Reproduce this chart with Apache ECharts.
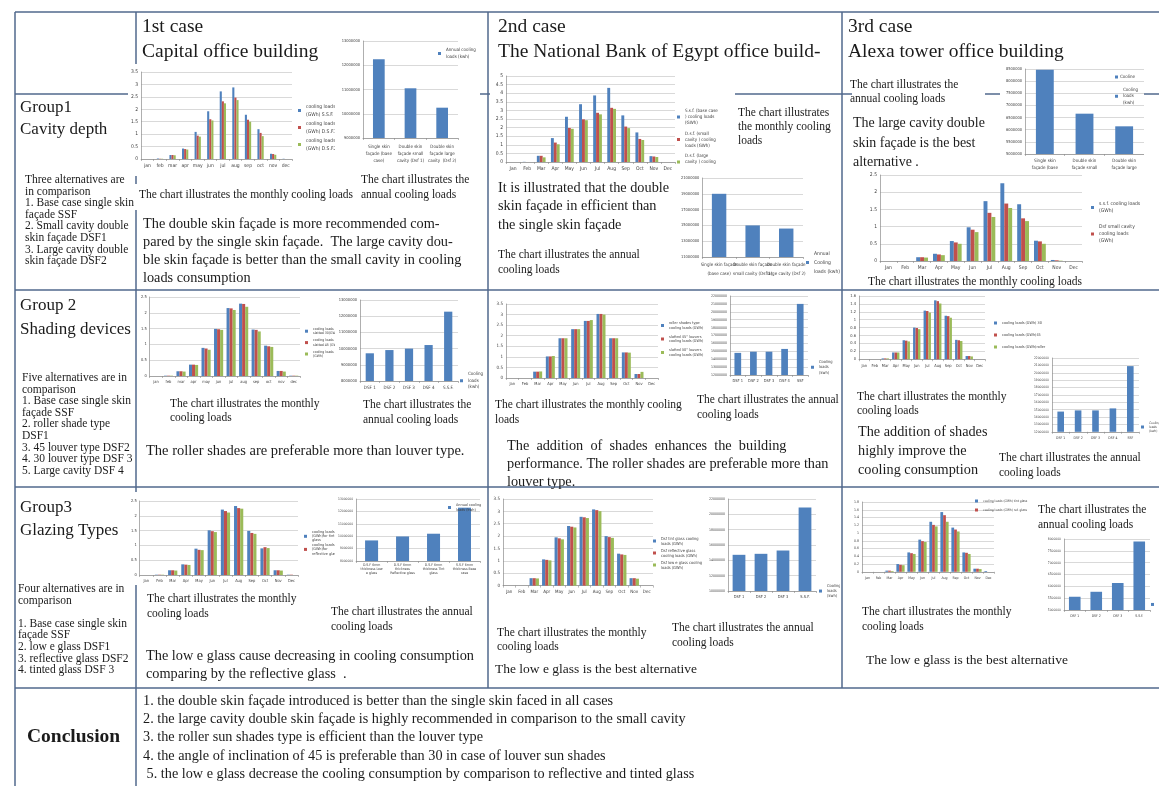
<!DOCTYPE html>
<html>
<head>
<meta charset="utf-8">
<script src="https://cdn.jsdelivr.net/npm/echarts@6/dist/echarts.min.js"></script>
<style>
  html, body { margin: 0; padding: 0; background: #fff; }
  #page { position: relative; width: 1159px; height: 786px; overflow: hidden; background: #fff; }
  #frame { position: absolute; left: 0; top: 0; width: 1159px; height: 786px; }
  .plot { position: absolute; background: #fff; overflow: hidden; }
</style>
</head>
<body>
<div id="page"><div id="frame"></div></div>
<script>
// ---------- categories ----------
const monthsLower = ['jan', 'feb', 'mar', 'apr', 'may', 'jun', 'jul', 'aug', 'sep', 'oct', 'nov', 'dec'];
const monthsTitle = ['Jan', 'Feb', 'Mar', 'Apr', 'May', 'Jun', 'Jul', 'Aug', 'Sep', 'Oct', 'Nov', 'Dec'];
const cavityCatsStacked = ['Single skin\nfaçade (base\ncase)', 'Double skin\nfaçade small\ncavity (Dsf 1)', 'Double skin\nfaçade large\ncavity  (Dsf 2)'];
const cavityCatsWide = ['Single skin façade\n(base case)', 'Double skin façade\nsmall cavity (Dsf 1)', 'Double skin façade\nlarge cavity (Dsf 2)'];
const shadeCatsCapital = ['DSF 1', 'DSF 2', 'DSF 3', 'DSF 4', 'S.S.F.'];
const shadeCatsOther = ['DSF 1', 'DSF 2', 'DSF 3', 'DSF 4', 'SSF'];
const glassCatsCapital = ['D.S.F 6mm\nthickness Low\ne glass', 'D.S.F 6mm\nthickness\nReflective glass', 'D.S.F 6mm\nthickness Tint\nglass', 'S.S.F 6mm\nthickness Base\ncase'];
const glassCatsOther = ['DSF 1', 'DSF 2', 'DSF 3', 'S.S.F.'];

// ---------- Group 1: cavity depth (monthly GWh, annual kWh) ----------
const capSSF  = [0, 0.02, 0.16, 0.42, 1.09, 1.92, 2.72, 2.88, 1.78, 1.20, 0.21, 0.01];
const capDSF1 = [0, 0.01, 0.16, 0.40, 0.94, 1.60, 2.32, 2.47, 1.58, 1.05, 0.20, 0];
const capDSF2 = [0, 0.01, 0.15, 0.38, 0.90, 1.55, 2.24, 2.37, 1.50, 0.92, 0.17, 0];
const capCavityAnnual = [12250000, 11050000, 10250000];

const nbeSSF  = [0, 0.01, 0.36, 1.39, 2.63, 3.36, 3.87, 4.31, 2.71, 1.72, 0.34, 0];
const nbeDSF1 = [0, 0, 0.36, 1.13, 1.98, 2.48, 2.86, 3.15, 2.06, 1.34, 0.32, 0];
const nbeDSF2 = [0, 0, 0.27, 1.03, 1.93, 2.43, 2.77, 3.09, 1.97, 1.28, 0.29, 0];
const nbeCavityAnnual = [19000000, 15000000, 14600000];

const alxSSF  = [0, 0, 0.11, 0.21, 0.58, 0.98, 1.74, 2.26, 1.65, 0.59, 0.03, 0];
const alxDSF1 = [0, 0, 0.11, 0.19, 0.54, 0.91, 1.40, 1.67, 1.24, 0.57, 0.02, 0];
const alxDSF2 = [0, 0, 0.10, 0.17, 0.50, 0.84, 1.28, 1.54, 1.16, 0.50, 0.01, 0];
const alxCavityAnnual = [8470000, 6660000, 6140000];

// ---------- Group 2: shading devices ----------
const capSlat30 = [0, 0.01, 0.15, 0.36, 0.89, 1.49, 2.15, 2.29, 1.47, 0.96, 0.16, 0.01];
const capSlat45 = [0, 0.01, 0.15, 0.36, 0.87, 1.48, 2.14, 2.28, 1.46, 0.94, 0.16, 0.01];
const capRoll   = [0, 0.01, 0.14, 0.35, 0.83, 1.46, 2.09, 2.19, 1.41, 0.92, 0.14, 0.01];
const capShadeAnnual = [9710000, 9910000, 10000000, 10220000, 12280000];

const nbeRoller = [0, 0, 0.30, 1.02, 1.88, 2.31, 2.70, 3.03, 1.88, 1.21, 0.19, 0];
const nbeSlat45 = [0, 0, 0.30, 1.02, 1.88, 2.31, 2.70, 3.03, 1.88, 1.21, 0.19, 0];
const nbeSlat30 = [0, 0, 0.31, 1.04, 1.88, 2.31, 2.74, 3.00, 1.88, 1.20, 0.29, 0];
const nbeShadeAnnual = [14800000, 14950000, 14950000, 15300000, 21000000];

const alxShade30     = [0, 0, 0.02, 0.17, 0.48, 0.80, 1.23, 1.49, 1.10, 0.49, 0.08, 0];
const alxShade45     = [0, 0, 0.02, 0.17, 0.47, 0.79, 1.22, 1.47, 1.09, 0.48, 0.08, 0];
const alxShadeRoller = [0, 0, 0.02, 0.17, 0.45, 0.76, 1.18, 1.41, 1.05, 0.46, 0.07, 0];
const alxShadeAnnual = [14740000, 14900000, 14900000, 15170000, 20900000];

// ---------- Group 3: glazing types ----------
const capTint = [0, 0.01, 0.16, 0.36, 0.89, 1.51, 2.21, 2.33, 1.49, 0.90, 0.16, 0.01];
const capRefl = [0, 0.01, 0.16, 0.35, 0.85, 1.48, 2.16, 2.26, 1.42, 0.94, 0.16, 0.01];
const capLowE = [0, 0.01, 0.15, 0.34, 0.84, 1.45, 2.11, 2.24, 1.39, 0.91, 0.15, 0];
const capGlassAnnual = [9660000, 9980000, 10200000, 12300000];

const nbeTint = [0, 0, 0.30, 1.06, 1.95, 2.41, 2.78, 3.08, 2.00, 1.29, 0.30, 0];
const nbeRefl = [0, 0, 0.30, 1.04, 1.91, 2.38, 2.76, 3.05, 1.96, 1.26, 0.30, 0];
const nbeLowE = [0, 0, 0.29, 1.02, 1.87, 2.35, 2.73, 3.01, 1.93, 1.24, 0.28, 0];
const nbeGlassAnnual = [14720000, 14850000, 15280000, 20900000];

const alxTint = [0, 0, 0.03, 0.20, 0.50, 0.83, 1.29, 1.54, 1.14, 0.50, 0.08, 0.02];
const alxRefl = [0, 0, 0.03, 0.18, 0.48, 0.79, 1.21, 1.46, 1.09, 0.49, 0.08, 0];
const alxLowE = [0, 0, 0.02, 0.17, 0.46, 0.77, 1.17, 1.29, 1.04, 0.46, 0.07, 0];
const alxGlassAnnual = [5560000, 5770000, 6140000, 7890000];

const conclusionLines = [
  '1. the double skin façade introduced is better than the single skin faced in all cases',
  '2. the large cavity double skin façade is highly recommended in comparison to the small cavity',
  '3. the roller sun shades type is efficient than the louver type',
  '4. the angle of inclination of 45 is preferable than 30 in case of louver sun shades',
  ' 5. the low e glass decrease the cooling consumption by comparison to reflective and tinted glass'
];

// ---------- drawing helpers ----------
const BLUE = '#4F81BD', RED = '#C0504D', GREEN = '#9BBB59';
const AXIS_FONT = '"Liberation Sans Narrow","DejaVu Sans Condensed","Liberation Sans",sans-serif';
const SERIF = '"Liberation Serif","Times New Roman",serif';
const INK = '#1b1b1b';
const RULE = '#50698c';

function mount(box) {
  const d = document.createElement('div');
  d.className = 'plot';
  d.style.left = box[0] + 'px';
  d.style.top = box[1] + 'px';
  d.style.width = box[2] + 'px';
  d.style.height = box[3] + 'px';
  document.getElementById('page').appendChild(d);
  return echarts.init(d, null, { renderer: 'canvas' });
}

function barChart(spec) {
  const [bx, by] = spec.box;
  const [pl, pt, pr, pb] = spec.plot;
  const lg = spec.legend;
  const chart = mount(spec.box);
  const extra = (spec.extra || []).map(e => Object.assign({}, e, { x: (e.x || 0) - bx, y: (e.y || 0) - by }));
  chart.setOption({
    animation: false,
    backgroundColor: '#fff',
    textStyle: { fontFamily: AXIS_FONT },
    grid: { left: pl - bx, top: pt - by, width: pr - pl, height: pb - pt },
    legend: {
      orient: 'vertical', left: lg.x - bx, top: lg.y - by, padding: 0,
      itemWidth: lg.mk || 3, itemHeight: lg.mk || 3, itemGap: lg.gap || 0, icon: 'rect',
      selectedMode: false,
      data: lg.names || spec.series.map(s => s.name),
      textStyle: { fontSize: lg.fs, lineHeight: lg.lh, color: '#404040', fontFamily: AXIS_FONT }
    },
    xAxis: {
      type: 'category', data: spec.cats,
      axisLine: { lineStyle: { color: '#8c8c8c', width: 0.7 } },
      axisTick: { show: true, length: 2, lineStyle: { color: '#8c8c8c', width: 0.6 } },
      axisLabel: { fontSize: spec.xfs, lineHeight: spec.xlh || spec.xfs * 1.2, color: '#404040', interval: 0, margin: spec.xm || 4, fontFamily: AXIS_FONT }
    },
    yAxis: {
      type: 'value', min: spec.y[0], max: spec.y[1], interval: spec.y[2],
      axisLine: { show: true, lineStyle: { color: '#8c8c8c', width: 0.7 } },
      axisTick: { show: false },
      splitLine: { lineStyle: { color: '#c9c9c9', width: 0.7 } },
      axisLabel: { fontSize: spec.yfs, color: '#404040', margin: spec.ym || 3, fontFamily: AXIS_FONT, formatter: v => String(v) }
    },
    series: spec.series.map(s => ({
      type: 'bar', name: s.name, data: s.data,
      itemStyle: { color: s.color },
      barGap: '0%', barCategoryGap: spec.catGap
    })),
    graphic: { elements: extra }
  });
  return chart;
}

// ---------- table frame and text ----------
function hLine(y, x1, x2) { return { type: 'line', shape: { x1: x1, y1: y, x2: x2, y2: y }, style: { stroke: RULE, lineWidth: 1.5 } }; }
function vLine(x, y1, y2) { return { type: 'line', shape: { x1: x, y1: y1, x2: x, y2: y2 }, style: { stroke: RULE, lineWidth: 1.5 } }; }
function txt(x, cy, text, size, lh, opt) {
  opt = opt || {};
  return {
    type: 'text', x: x, y: cy - lh / 2, scaleX: opt.sx || 1,
    style: { text: text, fontSize: size, fontFamily: SERIF, fontWeight: opt.bold ? 'bold' : 'normal', fill: INK, lineHeight: lh, verticalAlign: 'top' }
  };
}

const frameItems = [
  hLine(12, 15, 1159), hLine(290, 15, 1159), hLine(487, 15, 1159), hLine(688, 15, 1159),
  hLine(94, 15, 136), hLine(94, 478, 494), hLine(94, 733, 852), hLine(94, 985, 1159),
  vLine(15, 12, 786),
  vLine(136, 12, 64), vLine(136, 175, 184), vLine(136, 210, 786),
  vLine(488, 12, 688),
  vLine(842, 12, 688),

  txt(142, 27, '1st case', 19.5, 24), txt(142, 52, 'Capital office building', 19.5, 24),
  txt(498, 27, '2nd case', 19.5, 24), txt(498, 52, 'The National Bank of Egypt office build-', 19.5, 24),
  txt(848, 27, '3rd case', 19.5, 24), txt(848, 52, 'Alexa tower office building', 19.5, 24),

  txt(20, 108, 'Group1', 17, 21), txt(20, 130, 'Cavity depth', 17, 21),
  txt(25, 180, 'Three alternatives are\nin comparison\n1. Base case single skin\nfaçade SSF\n2. Small cavity double\nskin façade DSF1\n3. Large cavity double\nskin façade DSF2', 11.5, 11.6),
  txt(20, 306, 'Group 2', 17, 21), txt(20, 330, 'Shading devices', 17, 21),
  txt(22, 378, 'Five alternatives are in\ncomparison\n1. Base case single skin\nfaçade SSF\n2. roller shade type\nDSF1\n3. 45 louver type DSF2\n4. 30 louver type DSF 3\n5. Large cavity DSF 4', 11.5, 11.6),
  txt(20, 508, 'Group3', 17, 21), txt(20, 531, 'Glazing Types', 17, 21),
  txt(18, 589, 'Four alternatives are in\ncomparison\n\n1. Base case single skin\nfaçade SSF\n2. low e glass DSF1\n3. reflective glass DSF2\n4. tinted glass DSF 3', 11.5, 11.6),
  txt(27, 737, 'Conclusion', 19.5, 24, { bold: true }),
  txt(143, 701, conclusionLines.join('\n'), 15, 18.2, { sx: 0.95 }),

  // capital office building
  txt(139, 195, 'The chart illustrates the monthly cooling loads', 11.5, 15),
  txt(361, 180, 'The chart illustrates the\nannual cooling loads', 11.5, 15),
  txt(143, 224, 'The double skin façade is more recommended com-\npared by the single skin façade.  The large cavity dou-\nble skin façade is better than the small cavity in cooling\nloads consumption', 14.3, 18),
  txt(170, 404, 'The chart illustrates the monthly\ncooling loads', 11.5, 13.5),
  txt(363, 405, 'The chart illustrates the\nannual cooling loads', 11.5, 15),
  txt(146, 451, 'The roller shades are preferable more than louver type.', 14.5, 18),
  txt(147, 599, 'The chart illustrates the monthly\ncooling loads', 11.5, 15),
  txt(331, 612, 'The chart illustrates the annual\ncooling loads', 11.5, 14.5),
  txt(146, 656, 'The low e glass cause decreasing in cooling consumption\ncomparing by the reflective glass  .', 14.3, 18.5),

  // national bank of egypt
  txt(738, 113, 'The chart illustrates\nthe monthly cooling\nloads', 11.5, 14),
  txt(498, 188, 'It is illustrated that the double\nskin façade in efficient than\nthe single skin façade', 14.3, 18.5),
  txt(498, 255, 'The chart illustrates the annual\ncooling loads', 11.5, 15),
  txt(495, 405, 'The chart illustrates the monthly cooling\nloads', 11.5, 14.5),
  txt(697, 400, 'The chart illustrates the annual\ncooling loads', 11.5, 15),
  txt(507, 446, 'The  addition  of  shades  enhances  the  building\nperformance. The roller shades are preferable more than\nlouver type.', 14.3, 18),
  txt(497, 633, 'The chart illustrates the monthly\ncooling loads', 11.5, 14),
  txt(672, 628, 'The chart illustrates the annual\ncooling loads', 11.5, 15),
  txt(495, 669, 'The low e glass is the best alternative', 13.5, 16),

  // alexa tower
  txt(850, 85, 'The chart illustrates the\nannual cooling loads', 11.5, 14),
  txt(853, 123, 'The large cavity double\nskin façade is the best\nalternative .', 15.5, 19.5, { sx: 0.9 }),
  txt(868, 282, 'The chart illustrates the monthly cooling loads', 11.5, 15),
  txt(857, 397, 'The chart illustrates the monthly\ncooling loads', 11.5, 14),
  txt(858, 432, 'The addition of shades\nhighly improve the\ncooling consumption', 15.5, 19, { sx: 0.92 }),
  txt(999, 458, 'The chart illustrates the annual\ncooling loads', 11.5, 15),
  txt(1038, 510, 'The chart illustrates the\nannual cooling loads', 11.5, 15),
  txt(862, 612, 'The chart illustrates the monthly\ncooling loads', 11.5, 14.5),
  txt(866, 660, 'The low e glass is the best alternative', 13.5, 16)
];

echarts.init(document.getElementById('frame'), null, { renderer: 'canvas' }).setOption({
  animation: false,
  graphic: { elements: frameItems }
});

// ---------- Group 1 charts ----------
barChart({
  box: [128, 64, 207, 112], plot: [138, 72, 292, 159], cats: monthsLower, y: [0, 3.5, 0.5], xfs: 5, yfs: 5, catGap: '50%',
  legend: { x: 298, y: 103, fs: 5, lh: 7.5, gap: 2 },
  series: [
    { name: 'cooling loads\n(GWh) S.S.F.', data: capSSF, color: BLUE },
    { name: 'cooling loads\n(GWh) D.S.F.1.', data: capDSF1, color: RED },
    { name: 'cooling loads\n(GWh) D.S.F.2.', data: capDSF2, color: GREEN }
  ]
});
barChart({
  box: [335, 33, 145, 133], plot: [363, 41, 458, 138], cats: cavityCatsStacked, y: [9000000, 13000000, 1000000], xfs: 4.5, xlh: 7, xm: 5, yfs: 4, catGap: '63%',
  legend: { x: 438, y: 46.5, fs: 4.5, lh: 7 },
  series: [{ name: 'Annual cooling\nloads (kwh)', data: capCavityAnnual, color: BLUE }]
});
barChart({
  box: [490, 70, 245, 102], plot: [506, 76, 675, 163], cats: monthsTitle, y: [0, 5, 0.5], xfs: 5, yfs: 5, catGap: '38%',
  legend: { x: 677, y: 108, fs: 4.5, lh: 6, gap: 4.5 },
  series: [
    { name: 'S.s.f. (base case\n) cooling loads\n(GWh)', data: nbeSSF, color: BLUE },
    { name: 'D.s.f. (small\ncavity ) cooling\nloads (GWh)', data: nbeDSF1, color: RED },
    { name: 'D.s.f. (large\ncavity ) cooling\nloads (GWh)', data: nbeDSF2, color: GREEN }
  ],
  extra: [{ type: 'rect', x: 676, y: 165, shape: { width: 59, height: 8 }, style: { fill: '#fff' }, z: 100 }]
});
barChart({
  box: [678, 172, 162, 108], plot: [698, 178, 803, 257], cats: cavityCatsWide, y: [11000000, 21000000, 2000000], xfs: 4.5, xlh: 8.5, yfs: 4, catGap: '57%',
  legend: { x: 806, y: 249, fs: 5, lh: 9 },
  series: [{ name: 'Annual\nCooling\nloads (kwh)', data: nbeCavityAnnual, color: BLUE }]
});
barChart({
  box: [1000, 62, 144, 118], plot: [1025, 69, 1144, 154], cats: cavityCatsStacked, y: [5000000, 8500000, 500000], xfs: 4.5, xlh: 6.5, yfs: 4, catGap: '55%',
  legend: { x: 1115, y: 86.5, fs: 4.5, lh: 6.5 },
  series: [{ name: 'Cooling\nloads\n(kwh)', data: alxCavityAnnual, color: BLUE }],
  extra: [
    { type: 'rect', x: 1115, y: 75.5, shape: { width: 3, height: 3 }, style: { fill: BLUE }, z: 100 },
    { type: 'text', x: 1120, y: 74.5, style: { text: 'Cooline', fontSize: 4.5, fontFamily: AXIS_FONT, fill: '#404040', verticalAlign: 'top' }, z: 100 }
  ]
});
barChart({
  box: [862, 170, 293, 103], plot: [880, 175, 1082, 261], cats: monthsTitle, y: [0, 2.5, 0.5], xfs: 5, yfs: 5, catGap: '30%',
  legend: { x: 1091, y: 200.5, fs: 5, lh: 7, gap: 9, names: ['s.s.f. cooling loads\n(GWh)', 'Dsf small cavity\ncooling loads\n(GWh)'] },
  series: [
    { name: 's.s.f. cooling loads\n(GWh)', data: alxSSF, color: BLUE },
    { name: 'Dsf small cavity\ncooling loads\n(GWh)', data: alxDSF1, color: RED },
    { name: 'Dsf large cavity\ncooling loads\n(GWh)', data: alxDSF2, color: GREEN }
  ]
});

// ---------- Group 2 charts ----------
barChart({
  box: [138, 293, 200, 92], plot: [148, 297, 300, 376], cats: monthsLower, y: [0, 2.5, 0.5], xfs: 4, yfs: 4, catGap: '27%',
  legend: { x: 305, y: 327, fs: 3.5, lh: 4.2, gap: 3 },
  series: [
    { name: 'cooling loads\nslatted 30(GWh)', data: capSlat30, color: BLUE },
    { name: 'cooling loads\nslatted 45 (GWh)', data: capSlat45, color: RED },
    { name: 'cooling loads roll\n(GWh)', data: capRoll, color: GREEN }
  ]
});
barChart({
  box: [335, 292, 149, 103], plot: [360, 300, 458, 381], cats: shadeCatsCapital, y: [8000000, 13000000, 1000000], xfs: 4.5, yfs: 4, catGap: '58%',
  legend: { x: 460, y: 371, fs: 4.5, lh: 6.5 },
  series: [{ name: 'Cooling\nloads\n(kwh)', data: capShadeAnnual, color: BLUE }]
});
barChart({
  box: [492, 298, 212, 90], plot: [506, 304, 658, 378], cats: monthsTitle, y: [0, 3.5, 0.5], xfs: 4, yfs: 4.5, catGap: '29%',
  legend: { x: 661, y: 321, fs: 3.8, lh: 4.5, gap: 4.5 },
  series: [
    { name: 'roller shades type\ncooling loads (GWh)', data: nbeRoller, color: BLUE },
    { name: 'slatted 45° louvers\ncooling loads (GWh)', data: nbeSlat45, color: RED },
    { name: 'slatted 30° louvers\ncooling loads (GWh)', data: nbeSlat30, color: GREEN }
  ]
});
barChart({
  box: [705, 292, 133, 92], plot: [730, 296, 808, 375], cats: shadeCatsOther, y: [12000000, 22000000, 1000000], xfs: 4, yfs: 3.5, catGap: '57%',
  legend: { x: 811, y: 359, fs: 4, lh: 5.5 },
  series: [{ name: 'Cooling\nloads\n(kwh)', data: nbeShadeAnnual, color: BLUE }]
});
barChart({
  box: [846, 292, 205, 76], plot: [859, 296, 985, 365], cats: monthsTitle, y: [0, 1.6, 0.2], xfs: 4, yfs: 4, catGap: '30%',
  legend: { x: 994, y: 321, fs: 3.8, lh: 4, gap: 8 },
  series: [
    { name: 'cooling loads (GWh) 30', data: alxShade30, color: BLUE },
    { name: 'cooling loads (GWh)45', data: alxShade45, color: RED },
    { name: 'cooling loads (GWh)roller', data: alxShadeRoller, color: GREEN }
  ]
});
barChart({
  box: [1028, 356, 131, 84], plot: [1052, 358, 1139, 435], cats: shadeCatsOther, y: [12000000, 22000000, 1000000], xfs: 3.5, yfs: 3.3, catGap: '62%',
  legend: { x: 1141, y: 421, fs: 3.3, lh: 4 },
  series: [{ name: 'Cooling\nloads\n(kwh)', data: alxShadeAnnual, color: BLUE }]
});

// ---------- Group 3 charts ----------
barChart({
  box: [128, 492, 207, 93], plot: [138, 501, 298, 575], cats: monthsTitle, y: [0, 2.5, 0.5], xfs: 4, yfs: 4, catGap: '30%',
  legend: { x: 304, y: 530, fs: 3.8, lh: 4.2, gap: 0.5, names: ['cooling loads\n(GWh)for tint\nglass', 'cooling loads\n(GWh)for\nreflective glass'] },
  series: [
    { name: 'cooling loads\n(GWh)for tint\nglass', data: capTint, color: BLUE },
    { name: 'cooling loads\n(GWh)for\nreflective glass', data: capRefl, color: RED },
    { name: 'cooling loads\n(GWh)for low e\nglass', data: capLowE, color: GREEN }
  ]
});
barChart({
  box: [335, 494, 149, 92], plot: [353, 499, 480, 561], cats: glassCatsCapital, y: [8000000, 13000000, 1000000], xfs: 3.5, xlh: 4.2, xm: 2, yfs: 3.3, catGap: '58%',
  legend: { x: 448, y: 502, fs: 3.8, lh: 5.5 },
  series: [{ name: 'Annual cooling\nloads (kwh)', data: capGlassAnnual, color: BLUE }]
});
barChart({
  box: [490, 493, 213, 102], plot: [503, 499, 653, 591], cats: monthsTitle, y: [0, 3.5, 0.5], xfs: 4.5, yfs: 4.5, catGap: '25%',
  legend: { x: 653, y: 536, fs: 4, lh: 5, gap: 2 },
  series: [
    { name: 'Dsf tint glass cooling\nloads (GWh)', data: nbeTint, color: BLUE },
    { name: 'Dsf reflective glass\ncooling loads (GWh)', data: nbeRefl, color: RED },
    { name: 'Dsf low e glass cooling\nloads (GWh)', data: nbeLowE, color: GREEN }
  ]
});
barChart({
  box: [703, 493, 137, 110], plot: [728, 499, 816, 591], cats: glassCatsOther, y: [10000000, 22000000, 2000000], xfs: 4, yfs: 3.5, catGap: '42%',
  legend: { x: 819, y: 584, fs: 4, lh: 4.7 },
  series: [{ name: 'Cooling\nloads\n(kwh)', data: nbeGlassAnnual, color: BLUE }]
});
barChart({
  box: [850, 497, 180, 83], plot: [862, 502, 994, 576], cats: monthsTitle, y: [0, 1.8, 0.2], xfs: 3.5, yfs: 3.5, catGap: '25%',
  legend: { x: 975, y: 499, fs: 3.3, lh: 4, gap: 5, names: ['cooling loads (GWh) tint glass', 'cooling loads (GWh) ref. glass'] },
  series: [
    { name: 'cooling loads (GWh) tint glass', data: alxTint, color: BLUE },
    { name: 'cooling loads (GWh) ref. glass', data: alxRefl, color: RED },
    { name: 'cooling loads (GWh) low e glass', data: alxLowE, color: GREEN }
  ]
});
barChart({
  box: [1035, 533, 124, 86], plot: [1064, 539, 1150, 610], cats: glassCatsOther, y: [5000000, 8000000, 500000], xfs: 3.5, yfs: 3.3, catGap: '46%',
  legend: { x: 1151, y: 598, fs: 3.5, lh: 4.3 },
  series: [{ name: 'Cooling\nloads\n(kwh)', data: alxGlassAnnual, color: BLUE }]
});
</script>
</body>
</html>
